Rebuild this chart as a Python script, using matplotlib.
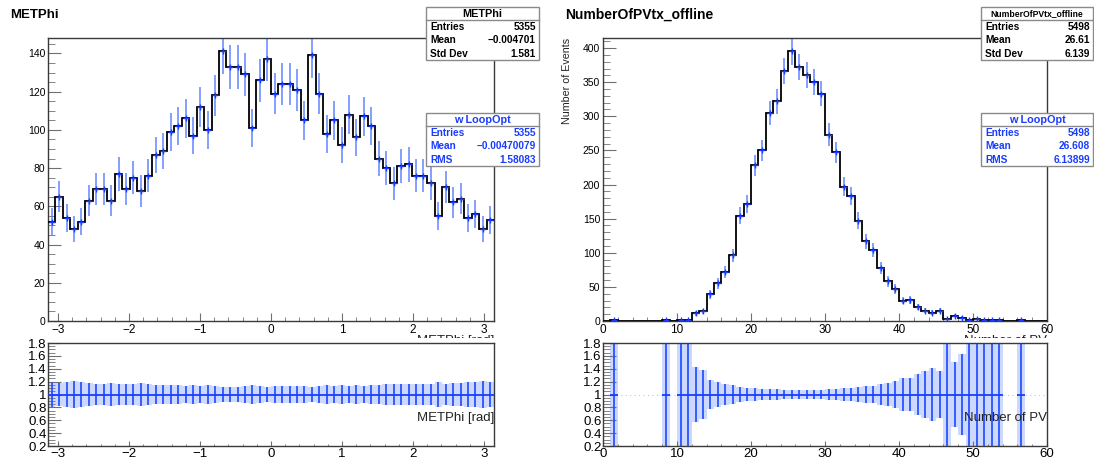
import numpy as np
import matplotlib
matplotlib.use("Agg")
import matplotlib.pyplot as plt
from matplotlib.patches import Rectangle
from matplotlib.lines import Line2D
from matplotlib.ticker import MultipleLocator, FuncFormatter

plt.rcParams["font.family"] = ["Liberation Sans", "DejaVu Sans"]

# METPhi histogram, 60 bins in [-pi, pi]
met_counts = [52, 65, 54, 48, 52, 63, 69, 69, 63, 77,
              69, 75, 68, 76, 87, 89, 99, 102, 106, 97,
              112, 100, 118, 141, 133, 133, 129, 101, 126, 137,
              119, 124, 124, 121, 105, 139, 119, 98, 105, 92,
              108, 96, 107, 102, 85, 80, 72, 81, 82, 76,
              76, 72, 55, 70, 62, 64, 54, 56, 48, 53]
met_stats = [("Entries", "5355"), ("Mean", "\u22120.004701"), ("Std Dev", "1.581")]
met_loop_stats = [("Entries", "5355"), ("Mean", "\u22120.00470079"), ("RMS", "1.58083")]

# NumberOfPVtx_offline histogram, 60 bins in [0, 60]
npv_counts = [0, 1, 0, 0, 0, 0, 0, 0, 1, 0,
              1, 1, 11, 14, 39, 55, 72, 96, 154, 172,
              228, 250, 305, 322, 366, 395, 372, 360, 350, 333,
              273, 247, 197, 183, 147, 117, 104, 77, 58, 47,
              30, 31, 20, 15, 12, 15, 3, 8, 5, 2,
              3, 2, 1, 2, 0, 0, 1, 0, 0, 0]
npv_stats = [("Entries", "5498"), ("Mean", "26.61"), ("Std Dev", "6.139")]
npv_loop_stats = [("Entries", "5498"), ("Mean", "26.608"), ("RMS", "6.13899")]

W, H = 1094, 461
fig = plt.figure(figsize=(W / 100, H / 100), dpi=100)

BLUE = "#1a3cff"
FRAME = "#3a3a3a"
TICK = "#707070"


def fx(px):
    return px / W


def fy(py):
    return 1 - py / H


def add_axes(x0, x1, y0, y1):
    return fig.add_axes([fx(x0), fy(y1), fx(x1) - fx(x0), fy(y0) - fy(y1)])


def style_axes(ax, xmaj, xmin, ymaj, ymin, xlen, ylen, xsize, ysize, xpad, ypad):
    for s in ax.spines.values():
        s.set_color(FRAME)
        s.set_linewidth(1.0)
    ax.xaxis.set_major_locator(MultipleLocator(xmaj))
    ax.xaxis.set_minor_locator(MultipleLocator(xmin))
    ax.yaxis.set_major_locator(MultipleLocator(ymaj))
    ax.yaxis.set_minor_locator(MultipleLocator(ymin))
    ax.tick_params(axis="x", which="major", direction="in", length=xlen, color=TICK,
                   labelsize=xsize, pad=xpad)
    ax.tick_params(axis="x", which="minor", direction="in", length=xlen / 2, color=TICK)
    ax.tick_params(axis="y", which="major", direction="in", length=ylen, color=TICK,
                   labelsize=ysize, pad=ypad)
    ax.tick_params(axis="y", which="minor", direction="in", length=ylen / 2, color=TICK)


def draw_main(ax, counts, edges):
    counts = np.asarray(counts, dtype=float)
    centers = 0.5 * (edges[:-1] + edges[1:])
    half = 0.5 * (edges[1] - edges[0])
    nz = counts > 0
    err = np.sqrt(counts)
    ax.hlines(counts[nz], centers[nz] - half, centers[nz] + half, color="#9fb4ff", lw=1.4, zorder=2)
    ax.vlines(centers[nz], counts[nz] - err[nz], counts[nz] + err[nz], color="#4a72ff",
              lw=1.2, alpha=0.8, zorder=2)
    ax.stairs(counts, edges, baseline=None, color="black", lw=1.3, zorder=3)
    ax.plot(centers[nz], counts[nz], ls="none", marker="+", ms=4, mew=1.0, color="#1a3cff", zorder=4)


def draw_ratio(ax, counts, edges):
    counts = np.asarray(counts, dtype=float)
    centers = 0.5 * (edges[:-1] + edges[1:])
    width = edges[1] - edges[0]
    nz = counts > 0
    rel = np.sqrt(2.0 / counts[nz])
    ax.bar(centers[nz], 2 * rel, bottom=1 - rel, width=width, color="#cdd8ff", lw=0, zorder=1)
    ax.vlines(centers[nz], 1 - rel, 1 + rel, color="#2a52ff", lw=1.3, zorder=2)
    ax.hlines(np.ones(nz.sum()), centers[nz] - width / 2, centers[nz] + width / 2,
              color="#1a3cff", lw=1.3, zorder=3)
    ax.set_ylim(0.2, 1.8)
    ax.yaxis.set_major_formatter(FuncFormatter(lambda v, p: "%g" % round(v, 2)))


def stat_box(x0, x1, y0, y1, title, rows, color, title_size):
    fig.add_artist(Rectangle((fx(x0), fy(y1)), fx(x1) - fx(x0), fy(y0) - fy(y1),
                             transform=fig.transFigure, facecolor="white",
                             edgecolor="#8a8a8a", lw=1.0, zorder=5))
    fig.add_artist(Line2D([fx(x0), fx(x1)], [fy(y0 + 13)] * 2, transform=fig.transFigure,
                          color="#8a8a8a", lw=1.0, zorder=6))
    fig.text(fx((x0 + x1) / 2), fy(y0 + 7), title, ha="center", va="center",
             fontsize=title_size, fontweight="bold", color=color, zorder=7)
    for i, (lab, val) in enumerate(rows):
        yy = y0 + 20 + 13.3 * i
        fig.text(fx(x0 + 4), fy(yy), lab, ha="left", va="center", fontsize=7.3,
                 fontweight="bold", color=color, zorder=7)
        fig.text(fx(x1 - 3), fy(yy), val, ha="right", va="center", fontsize=7.3,
                 fontweight="bold", color=color, zorder=7)


met_edges = np.linspace(-np.pi, np.pi, len(met_counts) + 1)
npv_edges = np.linspace(0, 60, len(npv_counts) + 1)

# ---- left: METPhi ----
ax1 = add_axes(48, 494, 38, 321)
draw_main(ax1, met_counts, met_edges)
ax1.set_xlim(-np.pi, np.pi)
ax1.set_ylim(0, max(met_counts) * 1.05)
style_axes(ax1, 1, 0.2, 20, 5, 6, 9.4, 8.5, 7.5, 2.5, 2)

ax1r = add_axes(48, 494, 343, 446)
ax1r.set_zorder(2)
draw_ratio(ax1r, met_counts, met_edges)
ax1r.set_xlim(-np.pi, np.pi)
style_axes(ax1r, 1, 0.2, 0.2, 0.05, 3.5, 9.4, 9.5, 9.5, 1.5, 1)
ax1r.text(1.0, 0.64, "METPhi [rad]", transform=ax1r.get_yaxis_transform(),
          ha="right", va="center", fontsize=9.5, color="#222222")

# ---- right: NumberOfPVtx_offline ----
ax2 = add_axes(603, 1047, 38, 321)
draw_main(ax2, npv_counts, npv_edges)
ax2.set_xlim(0, 60)
ax2.set_ylim(0, max(npv_counts) * 1.05)
style_axes(ax2, 10, 2, 50, 10, 6, 9.4, 8.5, 7.5, 2.5, 2)
ax2.set_ylabel("Number of Events", fontsize=7.7, color="#222222")
ax2.yaxis.set_label_coords(-0.07, 1.0)
ax2.yaxis.label.set_horizontalalignment("right")

ax2r = add_axes(603, 1047, 343, 446)
ax2r.set_zorder(2)
draw_ratio(ax2r, npv_counts, npv_edges)
ax2r.axhline(1, color="#b8c6ff", lw=0.8, ls=(0, (1, 3)), zorder=0)
ax2r.set_xlim(0, 60)
style_axes(ax2r, 10, 2, 0.2, 0.05, 3.5, 9.4, 9.5, 9.5, 1.5, 1)
ax2r.text(1.0, 0.64, "Number of PV", transform=ax2r.get_yaxis_transform(),
          ha="right", va="center", fontsize=9.5, color="#222222")

# top-pad x titles, mostly hidden behind the ratio pads
fig.text(fx(494), fy(334.5), "METPhi [rad]", ha="right", va="top", fontsize=9.5,
         color="#222222", zorder=1)
fig.text(fx(1047), fy(334.5), "Number of PV", ha="right", va="top", fontsize=9.5,
         color="#222222", zorder=1)
fig.add_artist(Rectangle((0, 0), 1, fy(337.5), transform=fig.transFigure,
                         facecolor="white", lw=0, zorder=1.5))

# titles
fig.text(fx(10), fy(15), "METPhi", ha="left", va="center", fontsize=9.5, fontweight="bold")
fig.text(fx(565), fy(15), "NumberOfPVtx_offline", ha="left", va="center", fontsize=10,
         fontweight="bold")

# stats boxes
stat_box(426, 539, 7, 60, "METPhi", met_stats, "black", 7.8)
stat_box(426, 539, 113, 166, "w LoopOpt", met_loop_stats, BLUE, 7.8)
stat_box(981, 1093, 7, 60, "NumberOfPVtx_offline", npv_stats, "black", 6.2)
stat_box(981, 1093, 113, 166, "w LoopOpt", npv_loop_stats, BLUE, 7.8)

fig.savefig("out.png", dpi=100)
